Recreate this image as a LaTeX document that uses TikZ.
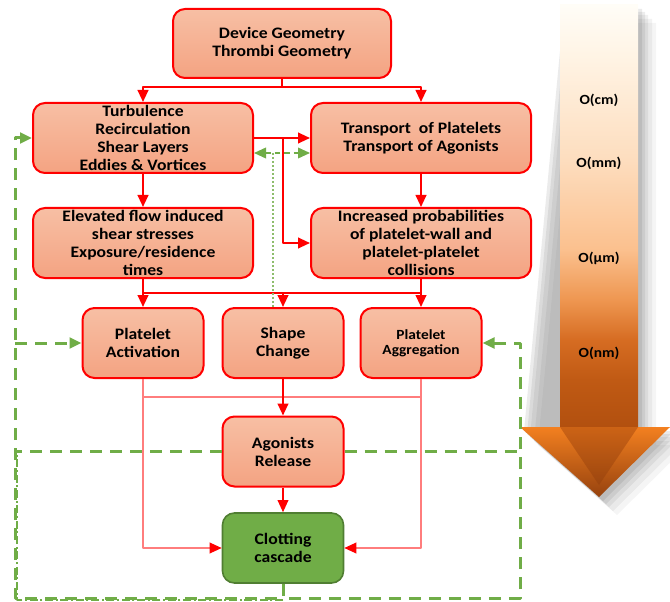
\documentclass[tikz,border=0pt]{standalone}
\usepackage{fontspec}
\setmainfont{Carlito}[FakeStretch=1.1]
\usetikzlibrary{arrows.meta}

\definecolor{boxtop}{RGB}{247,191,164}
\definecolor{boxbot}{RGB}{244,163,130}
\definecolor{linkred}{RGB}{255,0,0}
\definecolor{palered}{RGB}{255,125,125}
\definecolor{fbgreen}{RGB}{112,173,71}
\definecolor{clotdark}{RGB}{80,126,50}
% scale arrow colours
\definecolor{sc1}{RGB}{255,253,247}
\definecolor{sc2}{RGB}{255,243,227}
\definecolor{sc3}{RGB}{253,221,190}
\definecolor{sc4}{RGB}{251,192,142}
\definecolor{sc5}{RGB}{238,150,80}
\definecolor{sc6}{RGB}{214,108,34}
\definecolor{sc7}{RGB}{192,90,20}
\definecolor{sc8}{RGB}{178,80,15}
\definecolor{hdtop}{RGB}{243,128,32}
\definecolor{hdbot}{RGB}{150,66,14}

\pgfdeclareverticalshading{scaleshaft}{100bp}{color(0bp)=(sc8); color(25bp)=(sc8);
  color(30.6bp)=(sc7); color(35.3bp)=(sc6); color(40bp)=(sc5); color(46bp)=(sc4);
  color(56.6bp)=(sc3); color(68.5bp)=(sc2); color(75bp)=(sc1); color(100bp)=(sc1)}

\newcommand\boxfont{\fontsize{12}{13.5}\selectfont\bfseries}
\newcommand\smallboxfont{\fontsize{10.5}{11.5}\selectfont\bfseries}

\begin{document}
\begin{tikzpicture}[x=0.75pt, y=-0.75pt, line join=round,
    box/.style={draw=linkred, line width=1.5pt, rounded corners=9pt, top color=boxtop,
      bottom color=boxbot, align=center, inner sep=0pt, font=\boxfont},
    wide/.style={box, minimum width=165pt, minimum height=52.5pt},
    small/.style={box, minimum width=90.75pt, minimum height=52.5pt},
    greenbox/.style={small, draw=clotdark, line width=1.2pt, fill=fbgreen, top color=fbgreen, bottom color=fbgreen},
    link/.style={draw=linkred, line width=1.5pt, -{Triangle[length=9pt,width=8pt]}},
    redline/.style={draw=linkred, line width=1.5pt},
    palelink/.style={draw=palered, line width=1.1pt, -{Triangle[length=9pt,width=8pt,color=linkred]}},
    paleline/.style={draw=palered, line width=1.1pt},
    fb/.style={draw=fbgreen, line width=2.25pt, dash pattern=on 9pt off 6pt},
    fbarrow/.style={fb, -{Triangle[length=9pt,width=8pt,fill=fbgreen,sep=0pt]}},
    fbthin/.style={draw=fbgreen, line width=1pt, dash pattern=on 6pt off 2pt on 1.5pt off 2pt},
    fbdot/.style={draw=fbgreen!80, line width=1.2pt, dash pattern=on 1.5pt off 1.5pt},
    scalelabel/.style={font=\fontsize{10.5}{12}\selectfont\bfseries, inner sep=1pt}]
  \useasboundingbox (0,0) rectangle (670,602);

  % scale arrow (shadow first)
  \foreach \d/\o in {18/0.04, 14/0.05, 10/0.06, 7/0.07, 4/0.08}
    \fill[black, opacity=\o] (560+\d,5+\d) -- (638+\d,5+\d) -- (638+\d,427+\d)
      -- (670+\d,427+\d) -- (599+\d,497+\d) -- (520+\d,427+\d) -- cycle;
  \shade[shading=scaleshaft] (560,5) rectangle (638,427);
  \shade[top color=hdtop, bottom color=hdbot] (520,427) -- (670,427) -- (599,497) -- cycle;
  \shade[top color=sc8, bottom color=hdbot, opacity=0.6] (560,427) -- (638,427) -- (599,485) -- cycle;
  \node[scalelabel] (cm) at (599,100) {O(cm)};
  \node[scalelabel] (mm) at (599,163) {O(mm)};
  \node[scalelabel] (um) at (599,258) {O(µm)};
  \node[scalelabel] (nm) at (599,353) {O(nm)};

  % boxes
  \node[box, minimum width=163.5pt, minimum height=51.75pt] (geo) at (282,43.5) {Device Geometry\\Thrombi Geometry};
  \node[wide] (flow) at (143,138) {Turbulence\\Recirculation\\Shear Layers\\Eddies \& Vortices};
  \node[wide] (trans) at (421,138) {Transport~ of Platelets\\Transport of Agonists};
  \node[wide] (stress) at (143,243) {Elevated flow induced\\shear stresses\\Exposure/residence\\times};
  \node[wide] (prob) at (421,243) {Increased probabilities\\of platelet-wall and\\platelet-platelet\\collisions};
  \node[small] (act) at (143,343) {Platelet\\Activation};
  \node[small] (shape) at (283,343) {Shape\\Change};
  \node[small, font=\smallboxfont] (aggr) at (421,343) {Platelet\\Aggregation};
  \node[small] (agon) at (283,451.5) {Agonists\\Release};
  \node[greenbox] (clot) at (283,548) {Clotting\\cascade};

  % coordinates
  \coordinate (split) at (283,138);
  \coordinate (mid) at (283,293);
  \coordinate (low) at (283,397);
  \coordinate (tap) at (273,153);
  \coordinate (fbl) at (15,598);
  \coordinate (fbr) at (520,598);

  % red links
  \draw[link] (geo.south) -- ++(0,8) -| (flow.north);
  \draw[link] (geo.south) -- ++(0,8) -| (trans.north);
  \draw[link] (flow.east) -- (trans.west);
  \draw[link] (split) |- (prob.west);
  \draw[link] (flow) -- (stress);
  \draw[link] (trans) -- (prob);
  \draw[link] (stress.south) -- (act.north);
  \draw[link] (prob.south) -- (aggr.north);
  \draw[redline] (stress.south |- mid) -- (prob.south |- mid);
  \draw[link] (mid) -- (shape.north);
  \draw[paleline] (act.south |- low) -- (aggr.south |- low);
  \draw[palelink] (act.south) |- (clot.west);
  \draw[palelink] (aggr.south) |- (clot.east);
  \draw[link] (shape) -- (agon);
  \draw[link, line width=1pt] (agon) -- (clot);

  % green feedback
  \draw[fbdot] (shape.north -| tap) -- (tap);
  \draw[fb, line width=1.2pt, dash pattern=on 4pt off 3pt,
    {Triangle[length=9pt,width=8pt,fill=fbgreen]}-{Triangle[length=9pt,width=8pt,fill=fbgreen]}]
    (flow.east |- tap) -- (trans.west |- tap);
  \draw[fbthin] ([yshift=-1.5pt]clot.south |- fbl) -| ([xshift=1.5pt]fbl |- agon);
  \draw[fbarrow] (clot.south) |- (fbl) |- (flow.west);
  \draw[fbarrow] (fbl |- act) -- (act.west);
  \draw[fbarrow] (clot.south) |- (fbr) |- (aggr.east);
  \draw[fb] (agon.west) -- (fbl |- agon);
  \draw[fb] (agon.east) -- (fbr |- agon);
\end{tikzpicture}
\end{document}
